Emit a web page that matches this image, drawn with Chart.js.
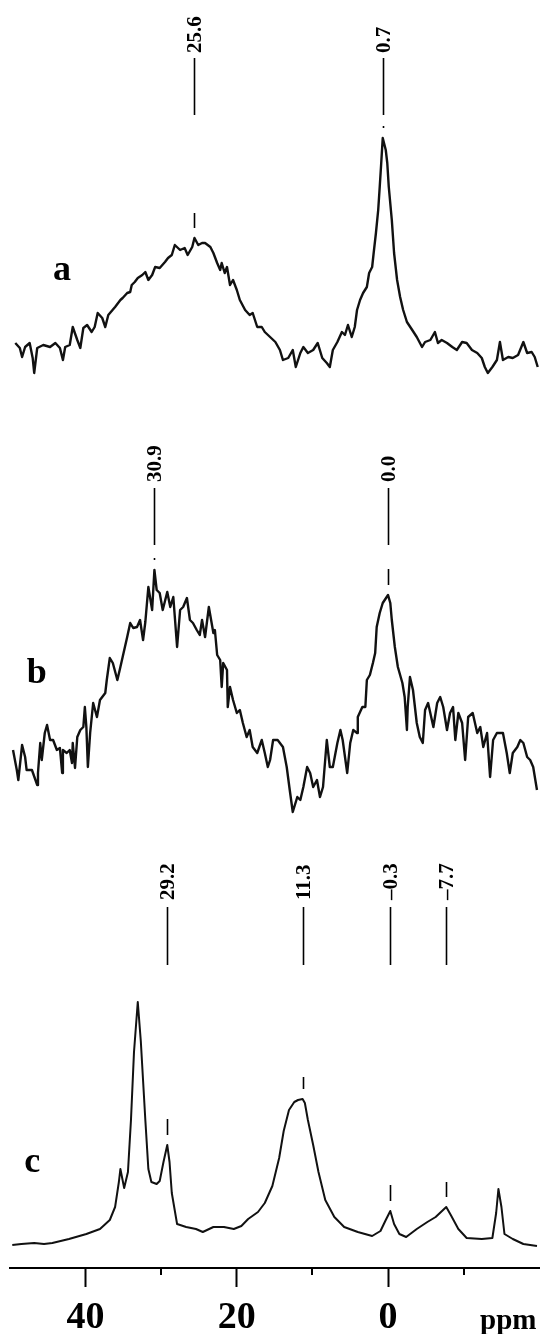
<!DOCTYPE html>
<html>
<head>
<meta charset="utf-8">
<script src="https://cdn.jsdelivr.net/npm/chart.js@4.4.1/dist/chart.umd.min.js"></script>
<style>
  html, body { margin: 0; padding: 0; background: #fff; }
  #wrap { width: 540px; height: 1334px; position: relative; }
</style>
</head>
<body>
<div id="wrap"><canvas id="nmr"></canvas></div>
<script>
// Chemical shift axis (ppm)
const majorTicks = [40, 20, 0];
const minorTicks = [30, 10, -10];

// Spectrum a
const aPpm = [49.3,48.7,48.4,48.0,47.4,47.0,46.8,46.4,45.6,44.7,44.0,43.4,43.0,42.7,42.1,41.7,41.1,40.7,40.3,39.8,39.2,38.8,38.4,37.8,37.4,37.0,36.1,35.4,35.1,34.5,34.1,33.9,33.5,33.1,32.5,32.1,31.7,31.2,30.8,30.2,29.5,29.1,28.6,28.2,27.5,26.9,26.5,25.9,25.6,25.1,24.6,24.2,23.5,23.1,22.6,22.2,22.0,21.6,21.3,20.9,20.5,20.0,19.6,18.9,18.3,17.9,17.3,16.7,16.3,15.6,14.9,14.3,13.9,13.2,12.6,12.2,11.6,11.2,10.6,9.9,9.3,8.7,8.1,7.7,7.3,6.7,6.1,5.7,5.3,4.8,4.4,4.1,3.7,3.3,2.8,2.5,2.1,1.9,1.6,1.3,1.1,0.9,0.7,0.3,0.1,-0.1,-0.5,-0.8,-1.2,-1.6,-2.0,-2.5,-3.2,-3.8,-4.5,-4.9,-5.6,-6.2,-6.6,-7.1,-7.8,-8.5,-9.1,-9.8,-10.4,-11.1,-11.8,-12.4,-12.8,-13.2,-13.8,-14.4,-14.8,-15.2,-15.9,-16.5,-17.2,-17.9,-18.4,-19.0,-19.4,-19.8];
const aInt = [17,12,3,13,17,2,-13,12,15,13,17,12,0,13,15,33,20,12,32,35,28,33,47,42,33,45,53,60,62,67,68,75,78,82,85,88,80,85,93,92,98,102,105,115,110,112,105,113,122,115,117,117,113,107,97,90,97,87,93,75,80,70,60,50,45,47,33,33,28,23,18,10,0,2,10,-7,7,13,7,10,17,2,-3,-7,10,18,28,25,35,23,33,50,60,67,73,87,93,107,127,150,173,197,222,210,197,173,140,107,80,63,50,38,30,23,13,18,20,28,17,20,17,13,10,18,17,10,7,2,-7,-13,-7,0,18,0,3,2,5,18,7,8,3,-7];
const aPeaks = [25.6, 0.7];

// Spectrum b
const bPpm = [49.6,49.1,48.9,48.4,48.0,47.8,47.1,46.4,46.3,46.0,45.8,45.4,45.1,44.7,44.3,43.8,43.4,43.1,43.0,42.5,42.1,41.8,41.7,41.4,41.1,40.7,40.3,40.1,39.9,39.7,39.4,39.0,38.5,38.1,37.4,37.2,36.8,36.4,35.8,35.4,35.1,34.5,34.1,33.7,33.2,32.8,32.4,32.1,31.7,31.2,30.9,30.6,30.2,29.8,29.2,28.8,28.4,27.9,27.5,27.1,26.6,26.2,25.8,25.3,24.9,24.6,24.2,23.7,23.1,22.9,22.6,22.2,22.0,21.8,21.3,21.2,20.9,20.5,20.0,19.6,19.2,18.7,18.3,17.9,17.3,16.7,16.3,15.9,15.6,15.2,14.6,13.9,13.4,13.0,12.6,12.0,11.6,11.2,10.7,10.3,9.9,9.4,9.0,8.6,8.1,7.7,7.3,6.7,6.3,6.0,5.4,5.0,4.6,4.1,4.0,3.4,3.0,2.8,2.4,2.0,1.7,1.5,1.1,0.7,0.0,-0.3,-0.5,-0.9,-1.3,-1.9,-2.2,-2.5,-2.6,-2.9,-3.3,-3.8,-4.2,-4.6,-4.9,-5.3,-6.0,-6.5,-6.9,-7.3,-7.8,-8.2,-8.6,-8.9,-9.3,-9.8,-10.2,-10.6,-11.2,-11.8,-12.2,-12.6,-13.1,-13.5,-13.9,-14.4,-15.2,-15.7,-16.1,-16.5,-17.1,-17.5,-17.9,-18.4,-18.8,-19.2,-19.7];
const bInt = [50,30,20,55,43,30,30,15,27,57,40,67,75,60,60,50,52,27,50,47,50,37,57,32,63,70,73,93,73,33,67,97,83,100,107,120,142,137,120,133,143,163,177,172,173,180,160,178,213,190,230,210,207,190,208,193,203,153,190,193,202,180,177,170,165,180,163,193,167,170,145,140,113,137,130,93,113,100,87,90,77,63,70,53,47,60,47,33,40,60,60,53,33,10,-12,3,0,13,33,27,13,20,3,13,60,33,33,57,70,60,27,57,70,67,83,93,93,120,125,137,147,173,187,197,205,197,180,153,133,117,103,70,93,123,110,77,63,57,90,97,73,97,103,93,70,87,93,60,87,77,40,83,87,67,73,53,67,23,60,67,67,47,27,47,53,60,57,43,40,33,10];
const bPeaks = [30.9, 0.0];

// Spectrum c
const cPpm = [49.7,48.5,46.8,45.5,44.4,42.2,39.9,38.1,36.8,36.1,35.6,35.4,34.9,34.4,34.0,33.6,33.1,32.7,32.1,31.7,31.3,30.6,30.2,29.7,29.2,28.9,28.6,27.9,26.7,25.4,24.5,23.1,21.7,20.4,19.4,18.5,17.2,16.3,15.3,14.4,13.8,13.1,12.4,11.9,11.3,11.0,10.6,9.9,9.2,8.3,7.1,5.8,4.0,2.1,1.0,0.3,-0.3,-0.8,-1.5,-2.4,-3.8,-5.2,-6.3,-7.7,-8.3,-9.3,-10.4,-12.4,-13.8,-14.3,-14.6,-15.0,-15.4,-16.5,-17.9,-19.7];
const cInt = [5,6,7,6,7,11,16,21,30,43,68,81,62,78,130,198,248,209,130,81,68,66,69,88,105,88,57,26,23,21,18,23,23,21,24,31,38,47,64,92,119,140,148,150,151,147,130,105,78,50,33,23,18,14,19,30,39,26,16,13,21,28,33,43,35,21,12,11,12,37,61,43,16,11,6,4];
const cPeaks = [29.2, 11.3, -0.3, -7.7];

// Vertical stacking and annotation layout (y values on the stacked scale)
const Y_MAX = 1268;
const AXIS_HEIGHT = 66;
const SERIF = '"Liberation Serif", "Times New Roman", serif';
const spectra = [
  { name: 'a', ppm: aPpm, int: aInt, peaks: aPeaks, offset: 908,
    letterAt: [44.3, 80], textFrom: 307, lineTop: 302, lineBottom: 245, markLen: [15, 2] },
  { name: 'b', ppm: bPpm, int: bInt, peaks: bPeaks, offset: 468,
    letterAt: [47.8, 117], textFrom: 318, lineTop: 312, lineBottom: 255, markLen: [2, 16] },
  { name: 'c', ppm: cPpm, int: cInt, peaks: cPeaks, offset: 18,
    letterAt: [48.1, 78], textFrom: 350, lineTop: 343, lineBottom: 285, markLen: [16, 12, 16, 15] }
];

function fmtShift(v) {
  const s = Math.abs(v).toFixed(1);
  return v < 0 ? '\u2013' + s : s;
}

const annotations = {
  id: 'peakAnnotations',
  afterDatasetsDraw(chart) {
    const ctx = chart.ctx;
    const xs = chart.scales.x, ys = chart.scales.y;
    ctx.save();
    ctx.strokeStyle = '#000';
    ctx.fillStyle = '#000';
    spectra.forEach(sp => {
      // spectrum letter
      ctx.font = 'bold 36px ' + SERIF;
      ctx.textAlign = 'left';
      ctx.textBaseline = 'alphabetic';
      ctx.fillText(sp.name, xs.getPixelForValue(sp.letterAt[0]), ys.getPixelForValue(sp.offset + sp.letterAt[1]));

      sp.peaks.forEach((p, k) => {
        const px = Math.round(xs.getPixelForValue(p)) + 0.5;
        // leader line
        ctx.lineWidth = 1.6;
        ctx.beginPath();
        ctx.moveTo(px, ys.getPixelForValue(sp.offset + sp.lineTop));
        ctx.lineTo(px, ys.getPixelForValue(sp.offset + sp.lineBottom));
        ctx.stroke();
        // rotated shift value
        ctx.save();
        ctx.translate(px, ys.getPixelForValue(sp.offset + sp.textFrom));
        ctx.rotate(-Math.PI / 2);
        ctx.font = 'bold 21px ' + SERIF;
        ctx.textAlign = 'left';
        ctx.textBaseline = 'middle';
        ctx.fillText(fmtShift(p), 0, 1);
        ctx.restore();
        // short mark just above the peak maximum
        const i = sp.ppm.indexOf(p);
        const peakY = ys.getPixelForValue(sp.offset + sp.int[i]);
        const gap = 10;
        ctx.lineWidth = 1.6;
        ctx.beginPath();
        ctx.moveTo(px, peakY - gap);
        ctx.lineTo(px, peakY - gap - sp.markLen[k]);
        ctx.stroke();
      });
    });
    ctx.restore();
  },
  afterDraw(chart) {
    const ctx = chart.ctx;
    const xs = chart.scales.x;
    ctx.save();
    ctx.strokeStyle = '#000';
    ctx.lineWidth = 2;
    minorTicks.forEach(v => {
      const px = Math.round(xs.getPixelForValue(v));
      ctx.beginPath();
      ctx.moveTo(px, xs.top);
      ctx.lineTo(px, xs.top + 7);
      ctx.stroke();
    });
    ctx.fillStyle = '#000';
    ctx.font = 'bold 29px ' + SERIF;
    ctx.textAlign = 'center';
    ctx.textBaseline = 'alphabetic';
    ctx.fillText('ppm', xs.getPixelForValue(-15.9), xs.top + 61);
    ctx.restore();
  }
};

const datasets = spectra.map(sp => ({
  label: sp.name,
  data: sp.ppm.map((x, i) => ({ x: x, y: sp.int[i] + sp.offset })),
  borderColor: '#111',
  borderWidth: sp.name === 'c' ? 2 : 2.4,
  borderJoinStyle: 'round',
  pointRadius: 0,
  fill: false,
  tension: 0
}));

new Chart(document.getElementById('nmr'), {
  type: 'line',
  data: { datasets: datasets },
  plugins: [annotations],
  options: {
    responsive: true,
    maintainAspectRatio: false,
    animation: false,
    events: [],
    layout: { padding: { left: 10, right: 0, top: 0, bottom: 0 } },
    plugins: { legend: { display: false }, tooltip: { enabled: false } },
    scales: {
      x: {
        type: 'linear',
        reverse: true,
        min: -20.1,
        max: 50,
        afterBuildTicks: s => { s.ticks = majorTicks.map(v => ({ value: v })); },
        afterFit: s => { s.height = AXIS_HEIGHT; },
        grid: { display: true, drawOnChartArea: false, drawTicks: true, tickLength: 19, tickWidth: 2, tickColor: '#000', color: '#000' },
        border: { display: true, color: '#000', width: 2 },
        ticks: {
          color: '#000', padding: 16, maxRotation: 0, autoSkip: false,
          font: { family: SERIF, size: 38, weight: 'bold', lineHeight: 0.8 }
        }
      },
      y: { display: false, min: 0, max: Y_MAX }
    }
  }
});
</script>
</body>
</html>
